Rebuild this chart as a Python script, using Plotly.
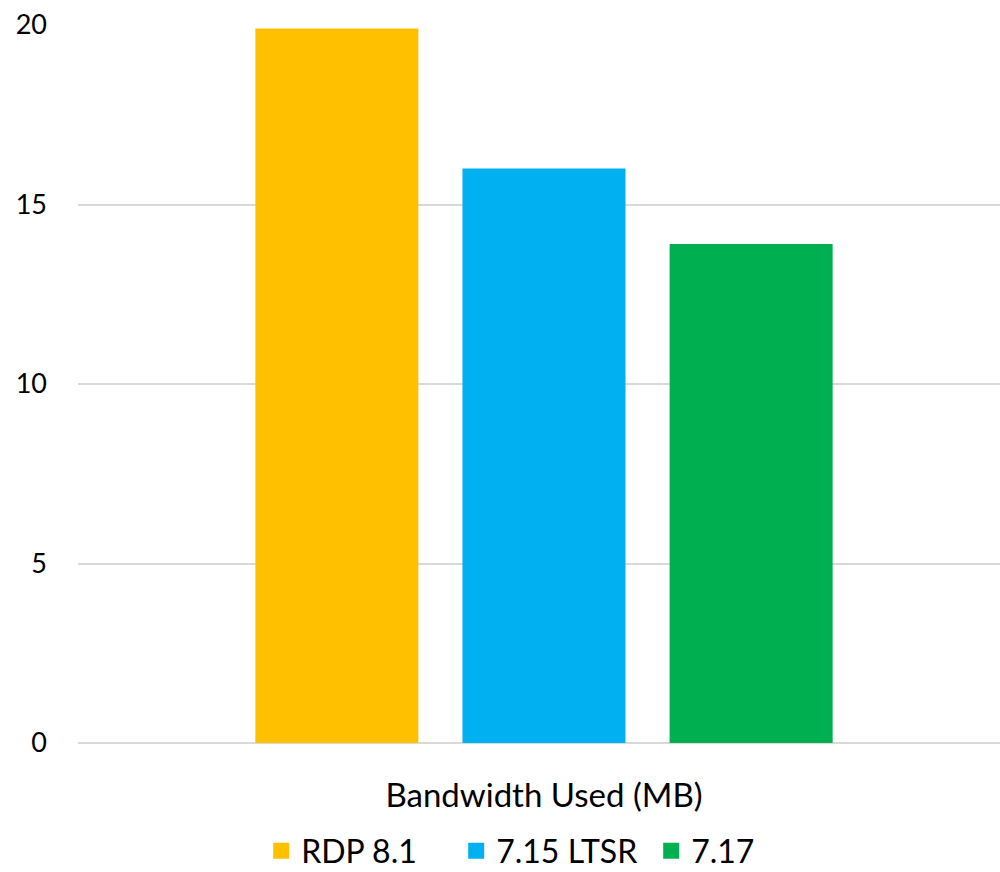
import plotly.graph_objects as go

categories = ["Bandwidth Used (MB)"]
series_names = ["RDP 8.1", "7.15 LTSR", "7.17"]
series_values = [[19.9], [16.0], [13.9]]
colors = ["#FFC000", "#00B0F0", "#00B050"]
y_ticks = [0, 5, 10, 15, 20]

fig = go.Figure()
for name, vals, col in zip(series_names, series_values, colors):
    fig.add_trace(go.Bar(x=categories, y=vals, name=name, marker_color=col,
                         marker_line_width=0, showlegend=False, legendgroup=name))
# legend entries with larger square swatches
for name, col in zip(series_names, colors):
    fig.add_trace(go.Scatter(x=[None], y=[None], mode="markers", name=name,
                             legendgroup=name,
                             marker=dict(symbol="square", size=20, color=col)))

fig.update_layout(
    width=1000, height=872,
    margin=dict(l=78, r=0, t=25, b=129, autoexpand=False),
    paper_bgcolor="white", plot_bgcolor="white",
    font=dict(family="Lato, Calibri, sans-serif", size=27, color="#000000"),
    barmode="group", bargap=0.326, bargroupgap=0.213,
    legend=dict(orientation="h", x=0.1987, xanchor="left", y=-0.112, yanchor="top",
                font=dict(size=32), itemwidth=30, traceorder="normal",
                itemsizing="trace", entrywidth=150, entrywidthmode="pixels"),
    showlegend=True,
)
fig.update_xaxes(showgrid=False, showline=False, ticks="", ticklabelstandoff=30,
                 tickfont=dict(size=33), automargin=False, range=[-0.5054, 0.4946])
fig.update_yaxes(range=[0, 20], tickvals=y_ticks, showgrid=True, gridcolor="#D9D9D9",
                 gridwidth=1.5, zeroline=True, zerolinecolor="#D9D9D9", zerolinewidth=1.5,
                 showline=False, ticks="", ticklabelstandoff=30, tickfont=dict(size=27),
                 automargin=False)

fig.write_html("out.html", config={"displayModeBar": False},
               post_script="document.body.style.margin='0';document.body.style.overflow='hidden';")
